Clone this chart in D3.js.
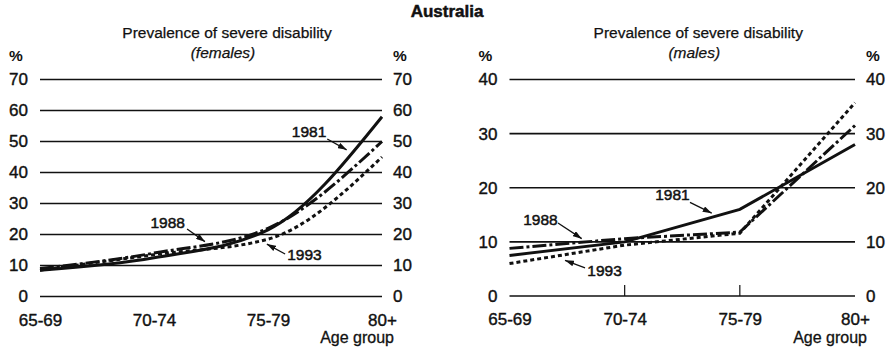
<!DOCTYPE html>
<html><head><meta charset="utf-8">
<script src="https://cdn.jsdelivr.net/npm/d3@7"></script>
<style>
body{margin:0;background:#fff}
svg{display:block}
text{font-family:"Liberation Sans",Arial,Helvetica,sans-serif;fill:#111}
</style>
</head><body>
<svg id="c" width="895" height="354"></svg>
<script>
// ---------- data ----------
const ageGroups = ["65-69", "70-74", "75-79", "80+"];
const years = ["1981", "1988", "1993"];
const females1981 = [8.5, 12.5, 21.5, 58];
const females1988 = [9, 14, 22, 50];
const females1993 = [8.5, 13.5, 18.5, 45];
const males1981 = [7.5, 10, 16, 28];
const males1988 = [8.8, 10.6, 11.8, 31.5];
const males1993 = [6, 9.4, 11.6, 35.7];
const femaleTicks = [0, 10, 20, 30, 40, 50, 60, 70];
const maleTicks = [0, 10, 20, 30, 40];
const mainTitle = "Australia";
const subTitle = "Prevalence of severe disability";
const femaleLabel = "(females)";
const maleLabel = "(males)";
const xAxisTitle = "Age group";

// annotation anchors in data space: [fractional age index, value]
const femaleNotes = [
  {year: "1981", text: [2.36, 51.5], from: [2.52, 50.8], to: [2.69, 47.3]},
  {year: "1988", text: [1.12, 22.1], from: [1.29, 21.8], to: [1.447, 17.7]},
  {year: "1993", text: [2.32, 11.8], from: [2.15, 13.7], to: [1.99, 16.9]}
];
const maleNotes = [
  {year: "1981", text: [1.415, 17.7], from: [1.567, 17.3], to: [1.756, 15.3]},
  {year: "1988", text: [0.269, 13.1], from: [0.421, 13.5], to: [0.627, 10.6]},
  {year: "1993", text: [0.825, 3.7], from: [0.656, 5.2], to: [0.482, 6.6]}
];

// ---------- styles ----------
const dashes = {"1981": null, "1988": "14,3,3,3", "1993": "4,3"};
const FONT = '"Liberation Sans",Arial,sans-serif';

const svg = d3.select("#c");
const defs = svg.append("defs");
defs.append("marker").attr("id", "arr")
  .attr("viewBox", "0 0 9 6").attr("refX", 9).attr("refY", 3)
  .attr("markerWidth", 9).attr("markerHeight", 6)
  .attr("markerUnits", "userSpaceOnUse").attr("orient", "auto")
  .append("path").attr("d", "M0,0 L9,3 L0,6 Z").attr("fill", "#111");

svg.append("text").attr("x", 447).attr("y", 17).attr("text-anchor", "middle")
  .attr("font-size", 17).attr("font-weight", "bold")
  .attr("stroke", "#111").attr("stroke-width", 0.5).text(mainTitle);

function panel(cfg) {
  const x = d3.scalePoint().domain(ageGroups).range([cfg.x0, cfg.x1]);
  const y = d3.scaleLinear().domain([0, d3.max(cfg.ticks)]).range([cfg.yb, cfg.yt]);
  const step = x.step();
  const fx = i => cfg.x0 + i * step;
  const g = svg.append("g");

  // titles
  const cx = (cfg.x0 + cfg.x1) / 2 + 16;
  g.append("text").attr("x", cx).attr("y", 38).attr("text-anchor", "middle")
    .attr("font-size", 15.5).attr("stroke", "#111").attr("stroke-width", 0.25).text(subTitle);
  g.append("text").attr("x", cx - 4).attr("y", 58).attr("text-anchor", "middle")
    .attr("font-size", 15.5).attr("font-style", "italic")
    .attr("stroke", "#111").attr("stroke-width", 0.25).text(cfg.sub);

  // gridlines
  g.selectAll("line.grid").data(cfg.ticks).join("line")
    .attr("x1", cfg.x0).attr("x2", cfg.x1)
    .attr("y1", d => y(d)).attr("y2", d => y(d))
    .attr("stroke", "#111").attr("stroke-width", 1.6);

  // y labels both sides
  const yl = d3.axisLeft(y).tickValues(cfg.ticks).tickSize(0).tickPadding(12);
  const yr = d3.axisRight(y).tickValues(cfg.ticks).tickSize(0).tickPadding(11);
  const gl = g.append("g").attr("transform", `translate(${cfg.x0},0)`).call(yl);
  const gr = g.append("g").attr("transform", `translate(${cfg.x1},0)`).call(yr);
  [gl, gr].forEach(a => {
    a.select(".domain").remove();
    a.selectAll("text").attr("font-size", 17).attr("fill", "#111")
      .attr("stroke", "#111").attr("stroke-width", 0.4)
      .attr("font-family", FONT);
  });
  g.append("text").attr("x", cfg.x0 - 31).attr("y", 61).attr("font-size", 15.5)
    .attr("font-weight", "bold").text("%");
  g.append("text").attr("x", cfg.x1 + 11).attr("y", 61).attr("font-size", 15.5)
    .attr("font-weight", "bold").text("%");

  // x axis labels
  const xa = d3.axisBottom(x).tickSize(0).tickPadding(0);
  const gx = g.append("g").attr("transform", `translate(0,${cfg.yb})`).call(xa);
  gx.select(".domain").remove();
  gx.selectAll("text").attr("font-size", 17).attr("fill", "#111")
    .attr("stroke", "#111").attr("stroke-width", 0.4)
    .attr("dy", null).attr("y", 29)
    .attr("font-family", FONT);
  g.append("text").attr("x", cfg.x1 + 12).attr("y", 343).attr("text-anchor", "end")
    .attr("font-size", 16).attr("stroke", "#111").attr("stroke-width", 0.3).text(xAxisTitle);

  if (cfg.innerTicks) {
    g.selectAll("line.tk").data(ageGroups.slice(1, -1)).join("line")
      .attr("x1", d => x(d)).attr("x2", d => x(d))
      .attr("y1", cfg.yb).attr("y2", cfg.yb - 11)
      .attr("stroke", "#111").attr("stroke-width", 1.2);
  }

  // series lines
  const line = d3.line().x((d, i) => x(ageGroups[i])).y(d => y(d)).curve(cfg.curve);
  cfg.series.forEach((vals, k) => {
    g.append("path").datum(vals).attr("d", line)
      .attr("fill", "none").attr("stroke", "#111").attr("stroke-width", 3)
      .attr("stroke-dasharray", dashes[years[k]]);
  });

  // annotations
  cfg.notes.forEach(n => {
    g.append("text").attr("x", fx(n.text[0])).attr("y", y(n.text[1]))
      .attr("text-anchor", "middle").attr("font-size", 15.5)
      .attr("stroke", "#111").attr("stroke-width", 0.5).text(n.year);
    g.append("line")
      .attr("x1", fx(n.from[0])).attr("y1", y(n.from[1]))
      .attr("x2", fx(n.to[0])).attr("y2", y(n.to[1]))
      .attr("stroke", "#111").attr("stroke-width", 1.3)
      .attr("marker-end", "url(#arr)");
  });
}

panel({x0: 40, x1: 382, yb: 296.5, yt: 79.5, ticks: femaleTicks, sub: femaleLabel,
  series: [females1981, females1988, females1993], curve: d3.curveMonotoneX,
  notes: femaleNotes, innerTicks: false});
panel({x0: 509.5, x1: 855, yb: 296, yt: 79.5, ticks: maleTicks, sub: maleLabel,
  series: [males1981, males1988, males1993], curve: d3.curveLinear,
  notes: maleNotes, innerTicks: true});
</script>
</body></html>
